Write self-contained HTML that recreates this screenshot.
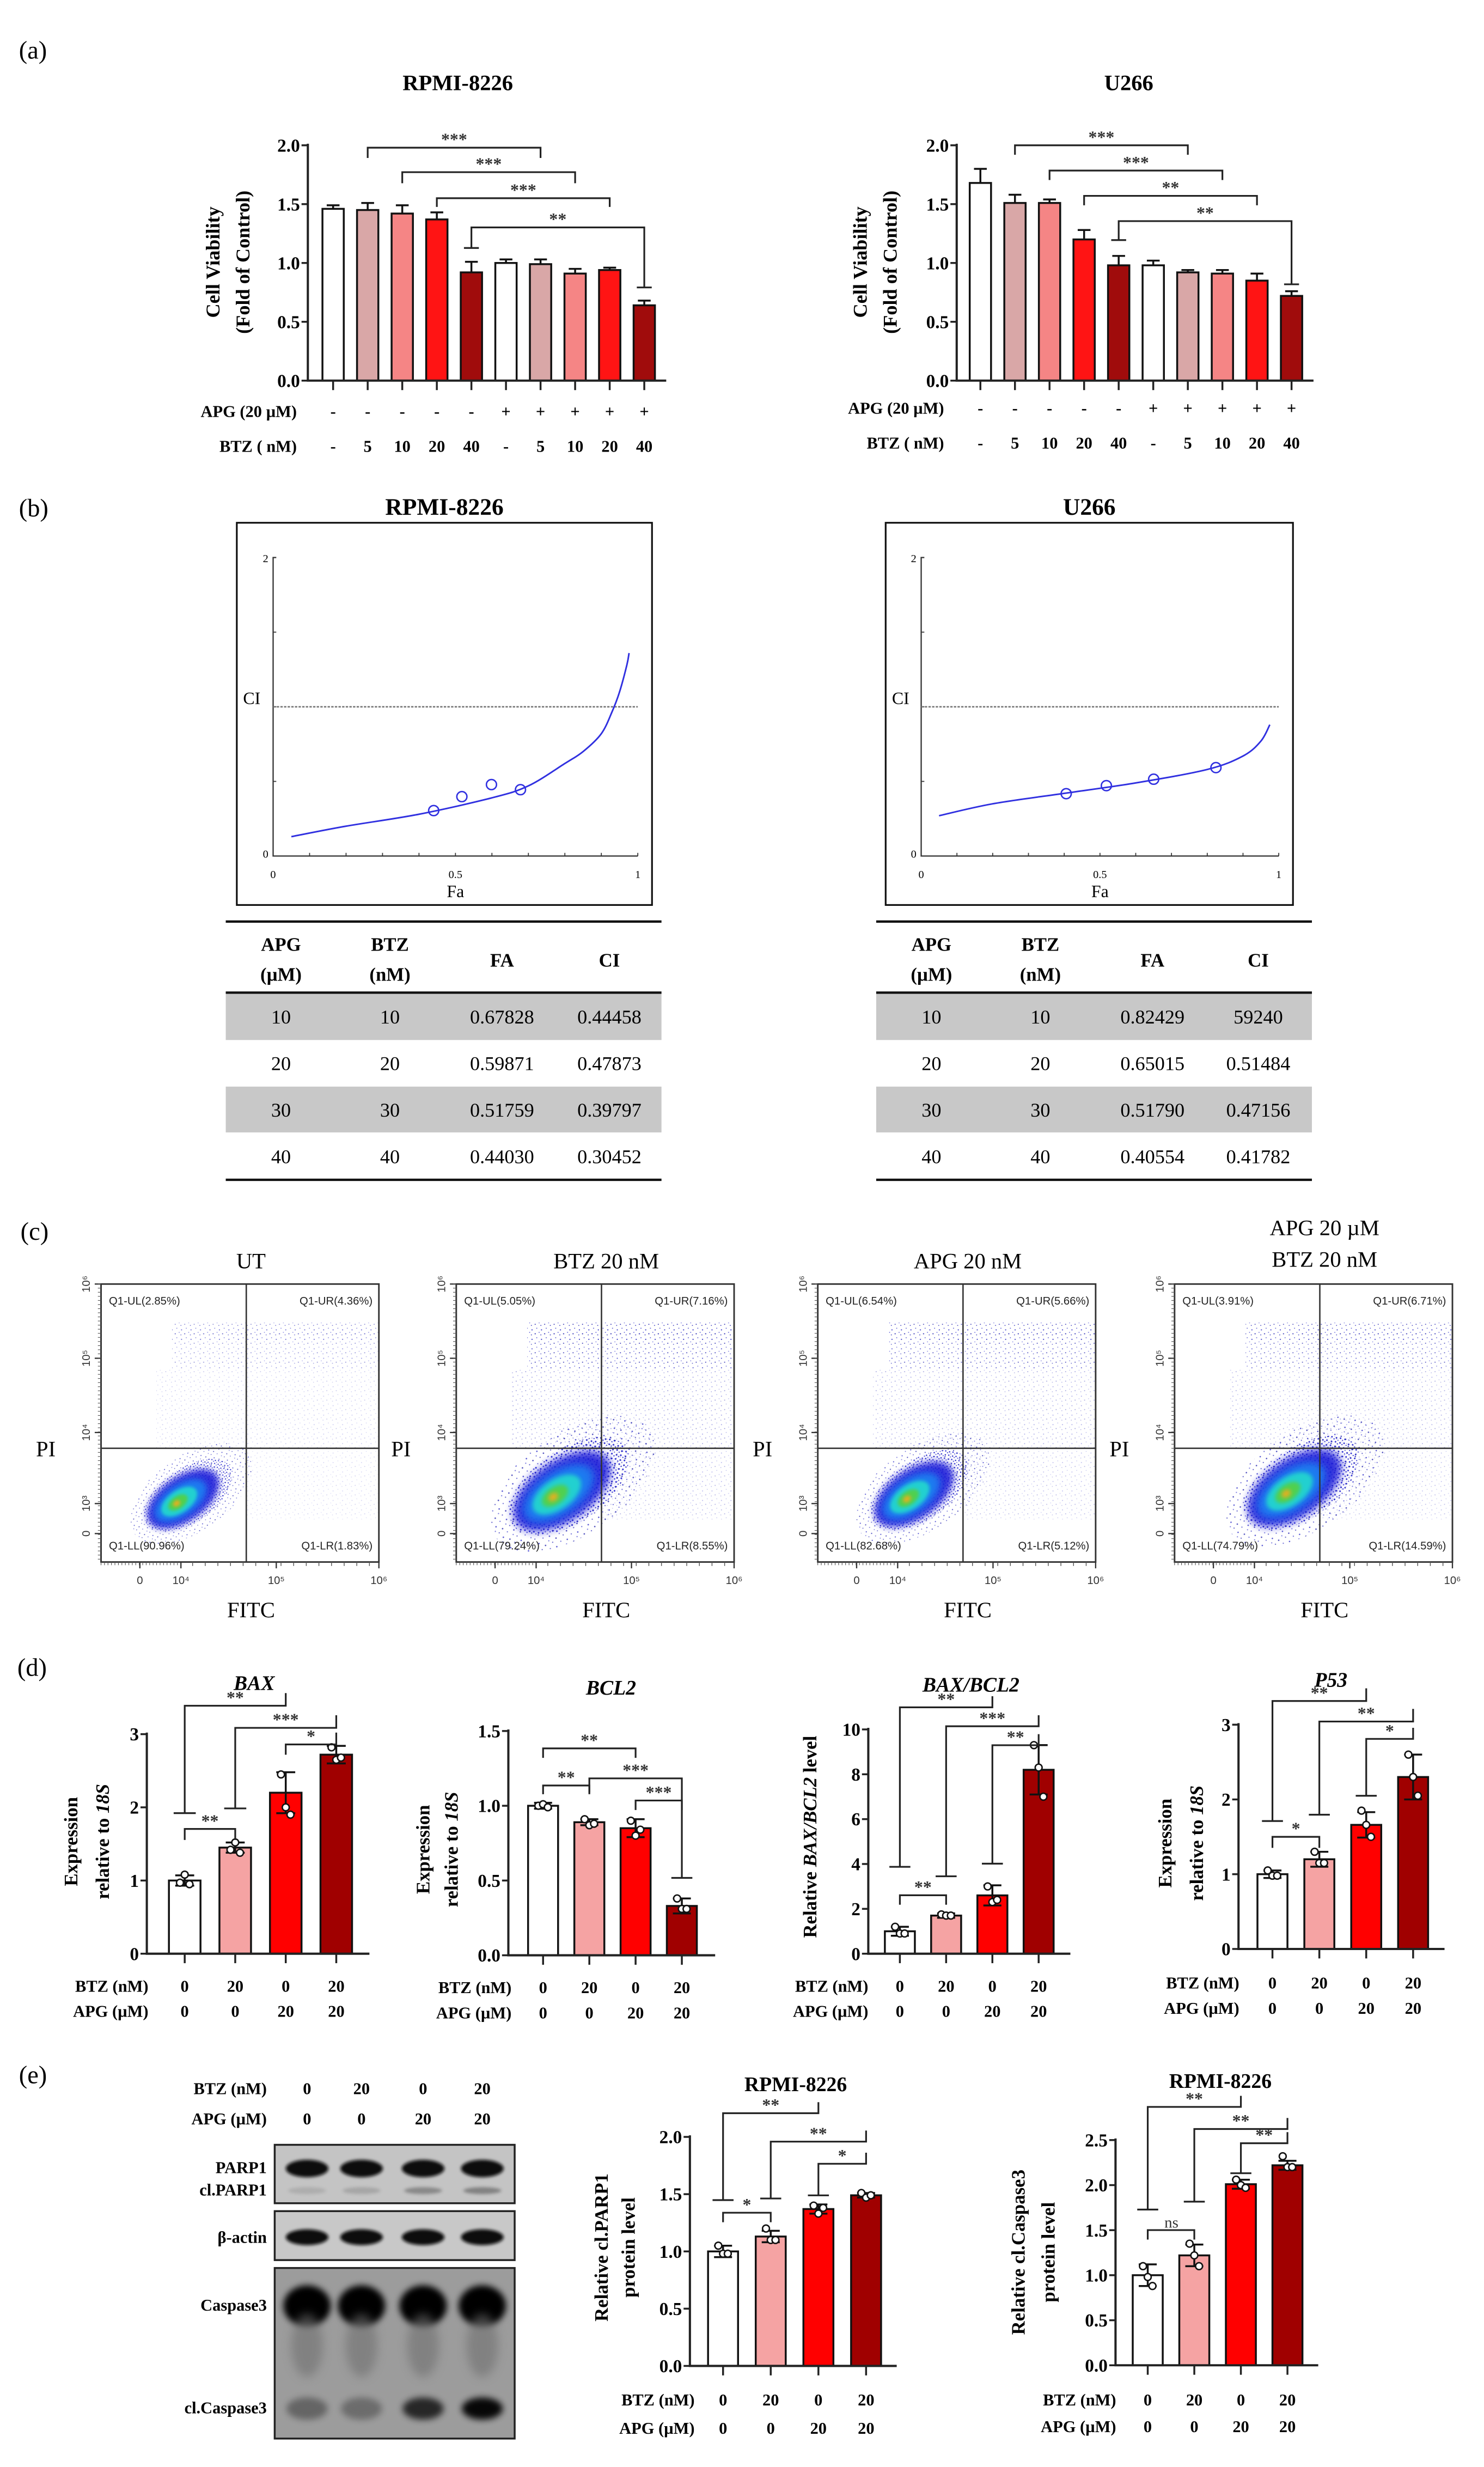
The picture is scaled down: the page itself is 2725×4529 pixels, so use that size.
<!DOCTYPE html>
<html><head><meta charset="utf-8">
<style>
html,body{margin:0;padding:0;background:#fff;}
svg{display:block;}
text{font-family:"Liberation Serif",serif;}
.sans{font-family:"Liberation Sans",sans-serif;}
</style></head>
<body>
<svg id="fig" xmlns="http://www.w3.org/2000/svg" width="2725" height="4529" viewBox="0 0 940 1562" preserveAspectRatio="none">
<defs>
<filter id="blur2" x="-50%" y="-50%" width="200%" height="200%"><feGaussianBlur stdDeviation="2"/></filter>
<filter id="blur1" x="-50%" y="-50%" width="200%" height="200%"><feGaussianBlur stdDeviation="1"/></filter>
<filter id="blur3" x="-50%" y="-50%" width="200%" height="200%"><feGaussianBlur stdDeviation="3"/></filter>
<pattern id="dots" width="6" height="6" patternUnits="userSpaceOnUse">
<circle cx="1" cy="2" r="0.35" fill="#3030c8"/><circle cx="4" cy="1" r="0.3" fill="#5050d0"/><circle cx="3" cy="4.5" r="0.35" fill="#2828b0"/><circle cx="5.5" cy="3.6" r="0.3" fill="#6060d8"/><circle cx="0.6" cy="5.2" r="0.3" fill="#4040c0"/>
</pattern>
<pattern id="dotsDense" width="3" height="3" patternUnits="userSpaceOnUse">
<circle cx="0.7" cy="0.8" r="0.4" fill="#1818c0"/><circle cx="2.2" cy="2.1" r="0.4" fill="#2020d0"/><circle cx="2.4" cy="0.5" r="0.3" fill="#3030d0"/>
</pattern>
</defs>
<text x="12" y="37" font-size="16">(a)</text>
<text x="12" y="327" font-size="16">(b)</text>
<text x="13" y="785" font-size="16">(c)</text>
<text x="11" y="1061" font-size="16">(d)</text>
<text x="12" y="1319" font-size="16">(e)</text>
</svg>
<script>
// ===== DATA =====
// Panel (a)
const aCategoriesAPG = ["-","-","-","-","-","+","+","+","+","+"];
const aCategoriesBTZ = ["-","5","10","20","40","-","5","10","20","40"];
const aRpmiValues = [1.46,1.45,1.42,1.37,0.92,1.00,0.99,0.91,0.94,0.64];
const aRpmiErrors = [0.03,0.06,0.07,0.06,0.09,0.03,0.04,0.04,0.02,0.04];
const aU266Values = [1.68,1.51,1.51,1.20,0.98,0.98,0.92,0.91,0.85,0.72];
const aU266Errors = [0.12,0.07,0.03,0.08,0.08,0.04,0.02,0.03,0.06,0.04];
const aTickValues = [0,0.5,1.0,1.5,2.0];
const aTickLabels = ["0.0","0.5","1.0","1.5","2.0"];
// Panel (b)
const bRpmiCurveFa = [0.05,0.2,0.4,0.6,0.7,0.8,0.85,0.9,0.93,0.95,0.97,0.976];
const bRpmiCurveCi = [0.13,0.2,0.28,0.39,0.47,0.62,0.7,0.82,0.97,1.1,1.28,1.36];
const bU266CurveFa = [0.05,0.2,0.4,0.6,0.8,0.9,0.95,0.975];
const bU266CurveCi = [0.27,0.35,0.42,0.49,0.58,0.67,0.77,0.88];
const bRpmiPointFa = [0.67828,0.59871,0.51759,0.44030];
const bRpmiPointCi = [0.44458,0.47873,0.39797,0.30452];
const bU266PointFa = [0.82429,0.65015,0.51790,0.40554];
const bU266PointCi = [0.59240,0.51484,0.47156,0.41782];
const bTableAPG = ["10","20","30","40"];
const bTableBTZ = ["10","20","30","40"];
const bRpmiFAText = ["0.67828","0.59871","0.51759","0.44030"];
const bRpmiCIText = ["0.44458","0.47873","0.39797","0.30452"];
const bU266FAText = ["0.82429","0.65015","0.51790","0.40554"];
const bU266CIText = ["59240","0.51484","0.47156","0.41782"];
// Panel (c)
const cTitles = [["UT"],["BTZ 20 nM"],["APG 20 nM"],["APG 20 \u00b5M","BTZ 20 nM"]];
const cUL = ["2.85%","5.05%","6.54%","3.91%"];
const cUR = ["4.36%","7.16%","5.66%","6.71%"];
const cLL = ["90.96%","79.24%","82.68%","74.79%"];
const cLR = ["1.83%","8.55%","5.12%","14.59%"];
// Panel (d)
const dBTZ = ["0","20","0","20"];
const dAPG = ["0","0","20","20"];
const dBaxValues = [1.0,1.45,2.2,2.72];
const dBaxErrors = [0.07,0.07,0.28,0.12];
const dBaxPoints = [[0.97,1.08,0.95],[1.42,1.52,1.38],[2.45,2.0,1.9],[2.82,2.65,2.68]];
const dBcl2Values = [1.0,0.89,0.85,0.33];
const dBcl2Errors = [0.02,0.02,0.06,0.05];
const dBcl2Points = [[1.0,1.01,0.99],[0.91,0.87,0.88],[0.90,0.80,0.84],[0.38,0.31,0.31]];
const dRatioValues = [1.0,1.7,2.6,8.2];
const dRatioErrors = [0.2,0.1,0.45,1.1];
const dRatioPoints = [[1.2,0.9,0.9],[1.75,1.7,1.7],[3.0,2.3,2.4],[9.3,8.3,7.0]];
const dP53Values = [1.0,1.2,1.66,2.3];
const dP53Errors = [0.05,0.1,0.17,0.3];
const dP53Points = [[1.05,0.98,0.98],[1.3,1.15,1.15],[1.85,1.66,1.5],[2.6,2.3,2.05]];
// Panel (e)
const eParpValues = [1.0,1.13,1.37,1.49];
const eParpErrors = [0.05,0.05,0.04,0.02];
const eParpPoints = [[1.05,0.98,0.98],[1.2,1.1,1.1],[1.4,1.33,1.38],[1.51,1.47,1.49]];
const eCasValues = [1.0,1.22,2.01,2.22];
const eCasErrors = [0.12,0.12,0.05,0.05];
const eCasPoints = [[1.1,0.98,0.88],[1.35,1.22,1.1],[2.06,2.0,1.97],[2.32,2.2,2.2]];

// ===== HELPERS =====
const NS='http://www.w3.org/2000/svg';
const svg=document.getElementById('fig');
function mk(tag, attrs, parent){const e=document.createElementNS(NS,tag);for(const k in attrs)e.setAttribute(k,attrs[k]);(parent||svg).appendChild(e);return e;}
function txt(str, attrs, parent){const e=mk('text',attrs,parent);e.textContent=str;return e;}
function smoothPath(pts){let d='M'+pts[0][0]+','+pts[0][1];for(let i=0;i<pts.length-1;i++){const p0=pts[Math.max(i-1,0)],p1=pts[i],p2=pts[i+1],p3=pts[Math.min(i+2,pts.length-1)];const c1=[p1[0]+(p2[0]-p0[0])/6,p1[1]+(p2[1]-p0[1])/6];const c2=[p2[0]-(p3[0]-p1[0])/6,p2[1]-(p3[1]-p1[1])/6];d+=' C'+c1[0]+','+c1[1]+' '+c2[0]+','+c2[1]+' '+p2[0]+','+p2[1];}return d;}

function barChart(cfg){
  const g=mk('g',{});
  
  
  const ys=v=>cfg.y0-(v/cfg.vmax)*(cfg.y0-cfg.yTop);
  const xs=i=>cfg.x0+i*cfg.step;
  const bw=cfg.bw;
  cfg.values.forEach((v,i)=>{
    const r=mk('rect',{x:xs(i)-bw/2,y:ys(v),width:bw,height:cfg.y0-ys(v),fill:cfg.colors[i],stroke:'#111','stroke-width':1.2},g);
    
    
    const e=cfg.errors[i];
    const top=ys(v+e), bot=cfg.points?ys(v-e):ys(v);
    const eb=mk('path',{d:'M'+xs(i)+','+bot+' V'+top+' M'+(xs(i)-bw*0.3)+','+top+' H'+(xs(i)+bw*0.3)+(cfg.points?' M'+(xs(i)-bw*0.3)+','+bot+' H'+(xs(i)+bw*0.3):''),stroke:'#111','stroke-width':1.2,fill:'none'},g);
    
    
    if(cfg.points){
      const offs=[-3,0,3];
      cfg.points[i].forEach((p,k)=>{
        const c=mk('circle',{cx:xs(i)+offs[k],cy:ys(p),r:2.2,fill:'#fff',stroke:'#111','stroke-width':0.9},g);
        
        
      });
    }
  });
  const ax=mk('path',{d:'M'+cfg.axisX+','+(cfg.yTop-1)+' V'+cfg.y0+' H'+cfg.axisEnd,stroke:'#222','stroke-width':1.4,fill:'none'},g);
  
  
  cfg.ticks.forEach((t,k)=>{
    mk('line',{x1:cfg.axisX-4,x2:cfg.axisX,y1:ys(t),y2:ys(t),stroke:'#222','stroke-width':1.2},g);
    const tl=txt(cfg.tickLabels[k],{x:cfg.axisX-5,y:ys(t)+4,'font-size':cfg.tfs||11.5,'font-weight':'bold','text-anchor':'end'},g);
    
    
  });
  cfg.values.forEach((v,i)=>{mk('line',{x1:xs(i),x2:xs(i),y1:cfg.y0,y2:cfg.y0+6,stroke:'#222','stroke-width':1.2},g);});
  // rows
  cfg.rows.forEach(row=>{
    const rl=txt(row.label,{x:cfg.rowLabelX,y:row.y,'font-size':cfg.rfs||10.5,'font-weight':'bold','text-anchor':'end'},g);
    
    
    row.vals.forEach((s,i)=>{
      const cv=txt(s,{x:xs(i),y:row.y,'font-size':cfg.rfs||10.5,'font-weight':'bold','text-anchor':'middle'},g);
      
      
    });
  });
  // brackets: [i,j,y,label,ldrop,rdrop,lcap,rcap]
  (cfg.brackets||[]).forEach(b=>{
    const [i,j,y,lab,ld,rd,lc,rc]=b;
    let d='M'+xs(i)+','+ld+' V'+y+' H'+xs(j)+' V'+rd;
    if(lc) d+=' M'+(xs(i)-bw*0.35)+','+ld+' H'+(xs(i)+bw*0.35);
    if(rc) d+=' M'+(xs(j)-bw*0.35)+','+rd+' H'+(xs(j)+bw*0.35);
    const p=mk('path',{d:d,stroke:'#222','stroke-width':1.1,fill:'none'},g);
    
    
    const bx=b[8]!==undefined?b[8]:(xs(i)+xs(j))/2;
    const st=txt(lab,{x:bx,y:y-1.5,'font-size':lab==='ns'?10:11,'font-weight':lab==='ns'?'normal':'bold','text-anchor':'middle',fill:'#333'},g);
    
    
  });
  // title
  if(cfg.title){
    const t=txt(cfg.title,{x:cfg.titleX,y:cfg.titleY,'font-size':cfg.titleSize||13,'font-weight':'bold','text-anchor':'middle','font-style':cfg.titleItalic?'italic':'normal'},g);
    
    
  }
  // y title lines
  cfg.yTitle.forEach(l=>{
    const t=mk('text',{x:0,y:0,'font-size':cfg.yfs||12,'font-weight':'bold','text-anchor':'middle',transform:'translate('+l.x+','+cfg.yTitleY+') rotate(-90)'},g);
    l.parts.forEach(pt=>{const s=mk('tspan',{'font-style':pt[1]?'italic':'normal'},t);s.textContent=pt[0];});
    
    
  });
}

// ===== PANEL A =====
const aColors=['#ffffff','#d9a7a7','#f58585','#ff1414','#a00c0c','#ffffff','#d9a7a7','#f58585','#ff1414','#a00c0c'];
barChart({name:'viability-chart-rpmi',axisX:195,y0:241,yTop:92,vmax:2,ticks:aTickValues,tickLabels:aTickLabels,x0:211,step:21.9,bw:13.5,
  values:aRpmiValues,errors:aRpmiErrors,colors:aColors,axisEnd:422,rowLabelX:188,
  rows:[{label:'APG (20 \u00b5M)',y:264,vals:aCategoriesAPG},{label:'BTZ ( nM)',y:286,vals:aCategoriesBTZ}],
  brackets:[[1,6,93.5,'***',100,100],[2,7,109,'***',116,116],[3,8,125.5,'***',131,131],[4,9,144,'**',157,182,true,true]],
  title:'RPMI-8226',titleX:290,titleY:57,titleSize:14,
  yTitle:[{x:139,parts:[['Cell Viability',0]]},{x:158,parts:[['(Fold of Control)',0]]}],yTitleY:166,yfs:12.5});
barChart({name:'viability-chart-u266',axisX:606,y0:241,yTop:92,vmax:2,ticks:aTickValues,tickLabels:aTickLabels,x0:621,step:21.9,bw:13.5,
  values:aU266Values,errors:aU266Errors,colors:aColors,axisEnd:832,rowLabelX:598,
  rows:[{label:'APG (20 \u00b5M)',y:262,vals:aCategoriesAPG},{label:'BTZ ( nM)',y:284,vals:aCategoriesBTZ}],
  brackets:[[1,6,92,'***',98,98],[2,7,108,'***',114,114],[3,8,124,'**',130,130],[4,9,140,'**',152,180,true,true]],
  title:'U266',titleX:715,titleY:57,titleSize:14,
  yTitle:[{x:549,parts:[['Cell Viability',0]]},{x:568,parts:[['(Fold of Control)',0]]}],yTitleY:166,yfs:12.5});

// ===== PANEL B =====
function ciPlot(cfg){
  const g=mk('g',{});
  
  
  const xs=f=>cfg.ax0+f*(cfg.ax1-cfg.ax0);
  const ys=c=>cfg.ay0-c/2*(cfg.ay0-cfg.ay2);
  const bx=mk('rect',{x:cfg.bx0,y:331,width:cfg.bx1-cfg.bx0,height:242,fill:'#fff',stroke:'#111','stroke-width':1.1},g);
  
  
  const t=txt(cfg.title,{x:(cfg.bx0+cfg.bx1)/2,y:326,'font-size':15,'font-weight':'bold','text-anchor':'middle'},g);
  
  
  mk('path',{d:'M'+(cfg.ax0+2)+','+ys(2)+' H'+cfg.ax0+' V'+cfg.ay0+' H'+cfg.ax1,stroke:'#333','stroke-width':0.8,fill:'none'},g);
  [0.5,1,1.5].forEach(c=>mk('line',{x1:cfg.ax0,x2:cfg.ax0+2,y1:ys(c),y2:ys(c),stroke:'#333','stroke-width':0.6},g));
  for(let k=1;k<=10;k++) mk('line',{x1:xs(k/10),x2:xs(k/10),y1:cfg.ay0,y2:cfg.ay0-2,stroke:'#333','stroke-width':0.6},g);
  txt('0',{x:cfg.ax0-3,y:cfg.ay0+1,'font-size':7,'text-anchor':'end'},g);
  txt('2',{x:cfg.ax0-3,y:ys(2)+3,'font-size':7,'text-anchor':'end'},g);
  txt('0',{x:xs(0),y:cfg.ay0+14,'font-size':7,'text-anchor':'middle'},g);
  txt('0.5',{x:xs(0.5),y:cfg.ay0+14,'font-size':7,'text-anchor':'middle'},g);
  txt('1',{x:xs(1),y:cfg.ay0+14,'font-size':7,'text-anchor':'middle'},g);
  const ci=txt('CI',{x:cfg.bx0+4,y:ys(1.06)+4,'font-size':11},g);
  
  
  const fa=txt('Fa',{x:xs(0.5),y:568,'font-size':11,'text-anchor':'middle'},g);
  
  
  const dl=mk('line',{x1:cfg.ax0,x2:xs(1),y1:ys(1),y2:ys(1),stroke:'#777','stroke-width':0.9,'stroke-dasharray':'1.5,0.8'},g);
  
  
  const pts=cfg.curveFa.map((f,i)=>[xs(f),ys(cfg.curveCi[i])]);
  const cv=mk('path',{d:smoothPath(pts),stroke:'#3030e0','stroke-width':1,fill:'none'},g);
  
  
  cfg.pFa.forEach((f,i)=>{
    const c=mk('circle',{cx:xs(f),cy:ys(cfg.pCi[i]),r:3.2,fill:'none',stroke:'#3030e0','stroke-width':0.9},g);
    
    
  });
  // table
  const tx0=cfg.tx0, tx1=cfg.tx1;
  mk('line',{x1:tx0,x2:tx1,y1:583.5,y2:583.5,stroke:'#111','stroke-width':1.5},g);
  const rowsY=[[629,658.5],[688,717]];
  rowsY.forEach(r=>{mk('rect',{x:tx0,y:r[0],width:tx1-tx0,height:r[1]-r[0],fill:'#c8c8c8'},g);});
  mk('line',{x1:tx0,x2:tx1,y1:628.5,y2:628.5,stroke:'#111','stroke-width':1.5},g);
  mk('line',{x1:tx0,x2:tx1,y1:747,y2:747,stroke:'#111','stroke-width':1.5},g);
  const cx=cfg.cols;
  [['APG',598],['(\u00b5M)',617]].forEach(h=>txt(h[0],{x:cx[0],y:h[1]+4,'font-size':12,'font-weight':'bold','text-anchor':'middle'},g));
  [['BTZ',598],['(nM)',617]].forEach(h=>txt(h[0],{x:cx[1],y:h[1]+4,'font-size':12,'font-weight':'bold','text-anchor':'middle'},g));
  txt('FA',{x:cx[2],y:612,'font-size':12,'font-weight':'bold','text-anchor':'middle'},g);
  txt('CI',{x:cx[3],y:612,'font-size':12,'font-weight':'bold','text-anchor':'middle'},g);
  const cols=[bTableAPG,bTableBTZ,cfg.faText,cfg.ciText];
  for(let r=0;r<4;r++){
    for(let c=0;c<4;c++){
      const tc=txt(cols[c][r],{x:cx[c],y:648+r*29.5,'font-size':12.5,'text-anchor':'middle'},g);
      
      
    }
  }
}
ciPlot({name:'ci-plot-rpmi',title:'RPMI-8226',bx0:150,bx1:413,ax0:173,ax1:404,ay0:542,ay2:353,curveFa:bRpmiCurveFa,curveCi:bRpmiCurveCi,pFa:bRpmiPointFa,pCi:bRpmiPointCi,tx0:143,tx1:419,cols:[178,247,318,386],faText:bRpmiFAText,ciText:bRpmiCIText});
ciPlot({name:'ci-plot-u266',title:'U266',bx0:561,bx1:819,ax0:583.5,ax1:810,ay0:542,ay2:353,curveFa:bU266CurveFa,curveCi:bU266CurveCi,pFa:bU266PointFa,pCi:bU266PointCi,tx0:555,tx1:831,cols:[590,659,730,797],faText:bU266FAText,ciText:bU266CIText});

// ===== PANEL C =====
const cLeft=[64,289,518,744];
const cBlob=[[52,136,1],[67,131,1.35],[61,133,1.1],[76,129,1.3]];
const cScatter=[0.55,1,0.9,0.85];
cLeft.forEach((L,n)=>{
  const T=813,S=176;
  const g=mk('g',{});
  
  
  const clipId='clip'+n;
  const cp=mk('clipPath',{id:clipId},g);
  mk('rect',{x:L,y:T,width:S,height:S},cp);
  const inner=mk('g',{'clip-path':'url(#'+clipId+')'},g);
  const op=cScatter[n];
  mk('rect',{x:L+45,y:T+24,width:S-45,height:30,fill:'url(#dots)',opacity:0.9*op},inner);
  mk('rect',{x:L+45,y:T+26,width:S-45,height:10,fill:'url(#dots)',opacity:0.8*op},inner);
  mk('rect',{x:L+35,y:T+54,width:S-35,height:50,fill:'url(#dots)',opacity:0.45*op},inner);
  mk('rect',{x:L+92,y:T+104,width:S-92,height:45,fill:'url(#dots)',opacity:0.35*op},inner);
  const [bx,by,sc]=cBlob[n];
  const bg=mk('g',{transform:'translate('+(L+bx)+','+(T+by)+') rotate(-35) scale('+sc+')'},inner);
  
  
  mk('ellipse',{cx:6,cy:0,rx:44,ry:24,fill:'url(#dots)',opacity:0.8},bg);
  mk('ellipse',{cx:4,cy:0,rx:32,ry:17,fill:'url(#dotsDense)',opacity:0.9},bg);
  mk('ellipse',{cx:0,cy:0,rx:26,ry:14,fill:'#1c1cd8',filter:'url(#blur2)',opacity:0.9},bg);
  mk('ellipse',{cx:-2,cy:0,rx:19,ry:10,fill:'#1a7af0',filter:'url(#blur2)'},bg);
  mk('ellipse',{cx:-3,cy:0,rx:13,ry:7,fill:'#20d0d0',filter:'url(#blur1)'},bg);
  mk('ellipse',{cx:-4,cy:0,rx:7,ry:4,fill:'#50d050',filter:'url(#blur1)'},bg);
  mk('ellipse',{cx:-5,cy:0,rx:2.5,ry:1.8,fill:'#e0b020',filter:'url(#blur1)'},bg);
  const fr=mk('rect',{x:L,y:T,width:S,height:S,fill:'none',stroke:'#333','stroke-width':1},g);
  
  
  const q=mk('path',{d:'M'+(L+92)+','+T+' V'+(T+S)+' M'+L+','+(T+104)+' H'+(L+S),stroke:'#333','stroke-width':0.9},g);
  
  
  // ticks
  const yT=[[0,'10\u2076'],[47,'10\u2075'],[94,'10\u2074'],[139,'10\u00b3'],[158,'0']];
  yT.forEach(t=>{
    mk('line',{x1:L-4,x2:L,y1:T+t[0],y2:T+t[0],stroke:'#333','stroke-width':0.8},g);
    const tl=txt(t[1],{x:0,y:0,'font-size':7,'text-anchor':'middle',fill:'#333',class:'sans',transform:'translate('+(L-7)+','+(T+t[0])+') rotate(-90)'},g);
    
    
  });
  for(let k=0;k<S;k+=2.6) mk('line',{x1:L-2,x2:L,y1:T+k,y2:T+k,stroke:'#555','stroke-width':0.4},g);
  const xT=[[24.6,'0'],[50.6,'10\u2074'],[111,'10\u2075'],[176,'10\u2076']];
  xT.forEach(t=>{
    mk('line',{x1:L+t[0],x2:L+t[0],y1:T+S,y2:T+S+4,stroke:'#333','stroke-width':0.8},g);
    const tl=txt(t[1],{x:L+t[0],y:T+S+14,'font-size':7,'text-anchor':'middle',fill:'#333',class:'sans'},g);
    
    
  });
  for(let k=0;k<50;k+=2.2) mk('line',{x1:L+k,x2:L+k,y1:T+S,y2:T+S+2,stroke:'#555','stroke-width':0.4},g);
  for(let k=58;k<S;k+=8) mk('line',{x1:L+k,x2:L+k,y1:T+S,y2:T+S+2.5,stroke:'#555','stroke-width':0.5},g);
  // quadrant labels
  const ql=[['Q1-UL('+cUL[n]+')',L+5,T+13,'start'],['Q1-UR('+cUR[n]+')',L+S-4,T+13,'end'],['Q1-LL('+cLL[n]+')',L+5,T+S-8,'start'],['Q1-LR('+cLR[n]+')',L+S-4,T+S-8,'end']];
  ql.forEach(a=>{
    const t=txt(a[0],{x:a[1],y:a[2],'font-size':7,'text-anchor':a[3],fill:'#222',class:'sans'},g);
    
    
  });
  const pi=txt('PI',{x:L-35,y:T+109,'font-size':14,'text-anchor':'middle'},g);
  
  
  const fi=txt('FITC',{x:L+95,y:T+211,'font-size':14,'text-anchor':'middle'},g);
  
  
  const tl=cTitles[n];
  tl.forEach((s,k)=>{
    const t=txt(s,{x:L+95,y:(tl.length>1?782:803)+k*20,'font-size':14,'text-anchor':'middle'},g);
    
    
  });
});

// ===== PANEL D =====
const dColors=['#ffffff','#f5a3a3','#ff0000','#a00000'];
const dRows=(x,y1,y2)=>[{label:'BTZ (nM)',y:y1,vals:dBTZ},{label:'APG (\u00b5M)',y:y2,vals:dAPG}];
barChart({name:'bax-chart',axisX:93,y0:1237,yTop:1098,vmax:3,ticks:[0,1,2,3],tickLabels:['0','1','2','3'],x0:117,step:32,bw:20,
  values:dBaxValues,errors:dBaxErrors,points:dBaxPoints,colors:dColors,axisEnd:234,rowLabelX:94,rows:dRows(0,1261,1277),
  brackets:[[0,2,1080,'**',1148,1072,true,false],[1,3,1094,'***',1145,1086,true,false],[2,3,1104.5,'*',1111,1097],[0,1,1158,'**',1165,1165]],
  title:'BAX',titleX:161,titleY:1070,titleItalic:true,
  yTitle:[{x:49,parts:[['Expression',0]]},{x:69,parts:[['relative to ',0],['18S',1]]}],yTitleY:1166});
barChart({name:'bcl2-chart',axisX:322,y0:1238,yTop:1096,vmax:1.5,ticks:[0,0.5,1,1.5],tickLabels:['0.0','0.5','1.0','1.5'],x0:344,step:29.3,bw:19,
  values:dBcl2Values,errors:dBcl2Errors,points:dBcl2Points,colors:dColors,axisEnd:453,rowLabelX:324,rows:dRows(0,1262,1278),
  brackets:[[0,2,1107,'**',1113,1113],[0,1,1130.5,'**',1136,1136],[1,3,1126,'***',1135,1189,false,true],[2,3,1140,'***',1146,1146]],
  title:'BCL2',titleX:387,titleY:1073,titleItalic:true,
  yTitle:[{x:272,parts:[['Expression',0]]},{x:290,parts:[['relative to ',0],['18S',1]]}],yTitleY:1171});
barChart({name:'bax-bcl2-ratio-chart',axisX:550,y0:1237,yTop:1095,vmax:10,ticks:[0,2,4,6,8,10],tickLabels:['0','2','4','6','8','10'],x0:570,step:29.3,bw:19,
  values:dRatioValues,errors:dRatioErrors,points:dRatioPoints,colors:dColors,axisEnd:678,rowLabelX:550,rows:dRows(0,1261,1277),
  brackets:[[0,2,1081,'**',1182,1074,true,false],[1,3,1093,'***',1188,1086,true,false],[2,3,1105,'**',1180,1098,true,false],[0,1,1200,'**',1206,1206]],
  title:'BAX/BCL2',titleX:615,titleY:1071,titleItalic:true,
  yTitle:[{x:517,parts:[['Relative ',0],['BAX/BCL2',1],[' level',0]]}],yTitleY:1163});
barChart({name:'p53-chart',axisX:784.5,y0:1234,yTop:1092,vmax:3,ticks:[0,1,2,3],tickLabels:['0','1','2','3'],x0:806,step:29.7,bw:19,
  values:dP53Values,errors:dP53Errors,points:dP53Points,colors:dColors,axisEnd:915,rowLabelX:785,rows:dRows(0,1259,1275),
  brackets:[[0,2,1077,'**',1153,1069,true,false],[1,3,1090,'**',1149,1082,true,false],[2,3,1101,'*',1137,1094,true,false],[0,1,1163,'*',1170,1170]],
  title:'P53',titleX:843,titleY:1068,titleItalic:true,
  yTitle:[{x:742,parts:[['Expression',0]]},{x:762,parts:[['relative to ',0],['18S',1]]}],yTitleY:1167});

// ===== PANEL E =====
// western blot
(function(){
  const g=mk('g',{});
  
  
  const lanes=[194.5,229,268,305.5];
  const laneBTZ=['0','20','0','20'], laneAPG=['0','0','20','20'];
  const r1=txt('BTZ (nM)',{x:169,y:1326,'font-size':10.5,'font-weight':'bold','text-anchor':'end'},g);
  
  
  const r2=txt('APG (\u00b5M)',{x:169,y:1345,'font-size':10.5,'font-weight':'bold','text-anchor':'end'},g);
  
  
  lanes.forEach((x,i)=>{
    txt(laneBTZ[i],{x:x,y:1326,'font-size':10.5,'font-weight':'bold','text-anchor':'middle'},g);
    txt(laneAPG[i],{x:x,y:1345,'font-size':10.5,'font-weight':'bold','text-anchor':'middle'},g);
  });
  const b1=mk('rect',{x:174,y:1358,width:152,height:37,fill:'#c4c4c4',stroke:'#222','stroke-width':1.2},g);
  
  
  const b2=mk('rect',{x:174,y:1400,width:152,height:31,fill:'#c8c8c8',stroke:'#222','stroke-width':1.2},g);
  
  
  const b3=mk('rect',{x:174,y:1436,width:152,height:108,fill:'#9c9c9c',stroke:'#222','stroke-width':1.2},g);
  
  
  const clInt=[0.15,0.2,0.4,0.45];
  const casInt=[0.35,0.3,0.75,0.95];
  lanes.forEach((x,i)=>{
    mk('ellipse',{cx:x,cy:1373,rx:13.5,ry:5.5,fill:'#0a0a0a',filter:'url(#blur1)'},g);
    mk('ellipse',{cx:x,cy:1387,rx:12,ry:2.2,fill:'#333',opacity:clInt[i],filter:'url(#blur1)'},g);
    mk('ellipse',{cx:x,cy:1416.5,rx:13.5,ry:5,fill:'#0a0a0a',filter:'url(#blur1)'},g);
    mk('ellipse',{cx:x,cy:1460,rx:15,ry:13,fill:'#000',filter:'url(#blur2)'},g);
    mk('ellipse',{cx:x,cy:1485,rx:10,ry:20,fill:'#707070',opacity:0.6,filter:'url(#blur3)'},g);
    mk('ellipse',{cx:x,cy:1525,rx:13,ry:7,fill:'#000',opacity:casInt[i],filter:'url(#blur2)'},g);
  });
  [['PARP1',1376],['cl.PARP1',1390],['\u03b2-actin',1420],['Caspase3',1463],['cl.Caspase3',1528]].forEach(l=>{
    const t=txt(l[0],{x:169,y:l[1],'font-size':10.5,'font-weight':'bold','text-anchor':'end'},g);
    
    
  });
})();
barChart({name:'cl-parp1-chart',axisX:437,y0:1498,yTop:1353,vmax:2,ticks:[0,0.5,1,1.5,2],tickLabels:['0.0','0.5','1.0','1.5','2.0'],x0:458,step:30.2,bw:19,
  values:eParpValues,errors:eParpErrors,points:eParpPoints,colors:dColors,axisEnd:568,rowLabelX:440,rows:dRows(0,1523,1541),
  brackets:[[0,2,1338,'**',1393,1331,true,false],[1,3,1356,'**',1392,1349,true,false],[2,3,1370,'*',1390,1363,true,false],[0,1,1401,'*',1407,1407]],
  title:'RPMI-8226',titleX:504,titleY:1324,
  yTitle:[{x:385,parts:[['Relative cl.PARP1',0]]},{x:402,parts:[['protein level',0]]}],yTitleY:1423});
barChart({name:'cl-caspase3-chart',axisX:706.6,y0:1497.6,yTop:1355,vmax:2.5,ticks:[0,0.5,1,1.5,2,2.5],tickLabels:['0.0','0.5','1.0','1.5','2.0','2.5'],x0:727,step:29.5,bw:19,
  values:eCasValues,errors:eCasErrors,points:eCasPoints,colors:dColors,axisEnd:835,rowLabelX:707,rows:dRows(0,1523,1540),
  brackets:[[0,2,1334,'**',1399,1327,true,false],[1,3,1348,'**',1394,1341,true,false],[2,3,1357,'**',1376,1350,true,false],[0,1,1412,'ns',1418,1418,false,false,742]],
  title:'RPMI-8226',titleX:773,titleY:1322,
  yTitle:[{x:649,parts:[['Relative cl.Caspase3',0]]},{x:668,parts:[['protein level',0]]}],yTitleY:1426});
</script>
</body></html>
